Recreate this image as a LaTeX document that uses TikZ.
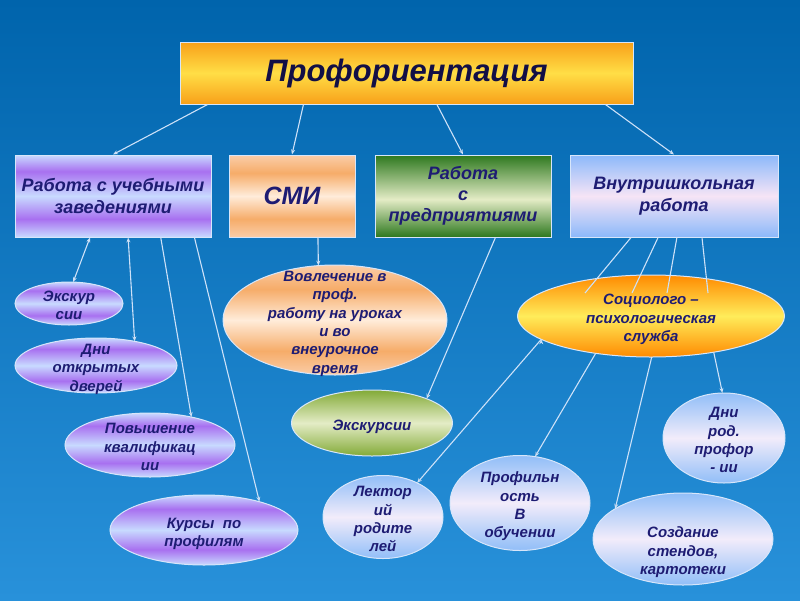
\documentclass[tikz,border=0pt]{standalone}
\usepackage{fontspec}
\setmainfont{Liberation Sans}
\usepackage{tikz}
\usetikzlibrary{positioning,shapes.geometric,arrows.meta,calc}

\definecolor{ink}{RGB}{30,28,115}
\definecolor{inkdark}{RGB}{18,15,70}
\definecolor{rim}{RGB}{215,230,250}
\definecolor{wire}{RGB}{205,225,248}
\definecolor{bgtop}{RGB}{0,100,172}
\definecolor{bgbot}{RGB}{40,145,218}
\definecolor{tor}{RGB}{248,160,25}
\definecolor{tye}{RGB}{255,222,70}
\definecolor{plt}{RGB}{200,218,255}
\definecolor{pvi}{RGB}{168,112,240}
\definecolor{olt}{RGB}{255,236,218}
\definecolor{oor}{RGB}{246,172,105}
\definecolor{opc}{RGB}{250,205,168}
\definecolor{gdk}{RGB}{45,120,30}
\definecolor{glt}{RGB}{228,236,198}
\definecolor{gmd}{RGB}{130,170,55}
\definecolor{bbl}{RGB}{140,185,250}
\definecolor{bpk}{RGB}{246,228,246}
\definecolor{sor}{RGB}{255,138,0}
\definecolor{sye}{RGB}{255,236,90}
\definecolor{lbl}{RGB}{145,190,248}
\definecolor{lwh}{RGB}{242,236,250}

\pgfdeclareverticalshading{titleband}{100bp}{color(0bp)=(tor); color(25bp)=(tor); color(50bp)=(tye); color(75bp)=(tor); color(100bp)=(tor)}
\pgfdeclareverticalshading{purpband}{100bp}{color(0bp)=(plt); color(25bp)=(plt); color(36bp)=(pvi); color(50bp)=(plt); color(65bp)=(pvi); color(75bp)=(plt); color(100bp)=(plt)}
\pgfdeclareverticalshading{orangeband}{100bp}{color(0bp)=(opc); color(25bp)=(opc); color(36bp)=(oor); color(50bp)=(olt); color(64bp)=(oor); color(75bp)=(opc); color(100bp)=(opc)}
\pgfdeclareverticalshading{greenband}{100bp}{color(0bp)=(gdk); color(25bp)=(gdk); color(48bp)=(glt); color(75bp)=(gdk); color(100bp)=(gdk)}
\pgfdeclareverticalshading{greenell}{100bp}{color(0bp)=(gmd); color(25bp)=(gmd); color(50bp)=(glt); color(75bp)=(gmd); color(100bp)=(gmd)}
\pgfdeclareverticalshading{blueband}{100bp}{color(0bp)=(bbl); color(25bp)=(bbl); color(50bp)=(bpk); color(75bp)=(bbl); color(100bp)=(bbl)}
\pgfdeclareverticalshading{socband}{100bp}{color(0bp)=(sor); color(25bp)=(sor); color(50bp)=(sye); color(75bp)=(sor); color(100bp)=(sor)}
\pgfdeclareverticalshading{skyband}{100bp}{color(0bp)=(lbl); color(25bp)=(lbl); color(50bp)=(lwh); color(75bp)=(lbl); color(100bp)=(lbl)}

\newcommand{\blobtext}[2][0pt]{\makebox[0pt]{\smash{\raisebox{\dimexpr-.48em-#1\relax}{\begin{tabular}{@{}c@{}}#2\end{tabular}}}}}

\begin{document}
\begin{tikzpicture}[x=1pt, y=-1pt, on grid, >={Stealth[length=5pt,width=4pt]},
	box/.style={draw=rim, line width=1pt, shade, inner sep=0pt, minimum height=82pt, align=center, text=ink, font=\fontsize{18}{22}\selectfont\bfseries\itshape},
	blob/.style={ellipse, draw=rim, line width=1pt, shade, inner sep=0pt, outer sep=0pt, text=ink, font=\fontsize{15}{18.3}\selectfont\bfseries\itshape},
	link/.style={draw=wire, line width=1.1pt}]
	\shade[top color=bgtop, bottom color=bgbot] (0,0) rectangle (800,600);
	% top row
	\node[box, shading=titleband, minimum width=453pt, minimum height=62pt, text=inkdark, font=\fontsize{31}{34}\selectfont\bfseries\itshape] (t_0) at (406.5,73) {Профориентация};
	\node[box, shading=purpband, minimum width=196pt] (r_1) at (113,196) {Работа с учебными\\заведениями};
	\node[box, shading=orangeband, minimum width=126pt, font=\fontsize{25}{30}\selectfont\bfseries\itshape] (r_2) [right=179pt of r_1] {СМИ};
	\node[box, shading=greenband, minimum width=176pt, font=\fontsize{18}{21}\selectfont\bfseries\itshape] (r_3) [right=171pt of r_2] {Работа\\с\\предприятиями};
	\node[box, shading=blueband, minimum width=208pt] (r_4) [right=211pt of r_3] {Внутришкольная\\работа};
	% ellipses
	\node[blob, shading=purpband, minimum width=108pt, minimum height=43pt] (e_1) at (69,303.5) {\blobtext{Экскур\\сии}};
	\node[blob, shading=purpband, minimum width=162pt, minimum height=55pt] (e_2) at (96,365.5) {\blobtext{Дни\\открытых\\дверей}};
	\node[blob, shading=purpband, minimum width=170pt, minimum height=64pt] (e_3) at (150,445) {\blobtext{Повышение\\квалификац\\ии}};
	\node[blob, shading=purpband, minimum width=188pt, minimum height=70pt] (e_4) at (204,530) {\blobtext{Курсы\ \ по\\профилям}};
	\node[blob, shading=orangeband, minimum width=224pt, minimum height=110pt] (e_5) at (335,320) {\blobtext{Вовлечение в\\проф.\\работу на уроках\\и во\\внеурочное\\время}};
	\node[blob, shading=greenell, minimum width=161pt, minimum height=66pt] (e_6) at (372,423) {\blobtext{Экскурсии}};
	\node[blob, shading=socband, minimum width=267pt, minimum height=82pt] (e_7) at (651,316) {\blobtext{Социолого –\\психологическая\\служба}};
	\node[blob, shading=skyband, minimum width=122pt, minimum height=90pt] (e_8) at (724,438) {\blobtext{Дни\\род.\\профор\\- ии}};
	\node[blob, shading=skyband, minimum width=140pt, minimum height=95pt] (e_9) at (520,503) {\blobtext{Профильн\\ость\\В\\обучении}};
	\node[blob, shading=skyband, minimum width=180pt, minimum height=92pt] (e_10) at (683,539) {\blobtext[10pt]{Создание\\стендов,\\картотеки}};
	\node[blob, shading=skyband, minimum width=120pt, minimum height=83pt] (e_11) at (383,517) {\blobtext{Лектор\\ий\\родите\\лей}};
	% connectors
	\path[link, ->]
		(t_0.189) edge (r_1.north)
		(t_0.197) edge (r_2.north)
		(t_0.314) edge (r_3.north)
		(t_0.351) edge (r_4.north)
		(r_1.241) edge[<->] (e_1.79)
		(r_1.290) edge[<->] (e_2.32)
		(r_1.319) edge (e_3.34)
		(r_1.333) edge (e_4.27)
		(r_2.302) edge (e_5.107)
		(r_3.308) edge (e_6.24)
		(r_4.224) edge[-] ($(e_7)+(-66,-23)$)
		(r_4.249) edge[-] ($(e_7)+(-19,-23)$)
		(r_4.274) edge[-] ($(e_7)+(16,-23)$)
		(r_4.304) edge[-] ($(e_7)+(57,-23)$)
		(e_7.330) edge (e_8.92)
		(e_7.271) edge (e_10.156)
		(e_7.214) edge (e_9.72)
		(e_7.192) edge (e_11.45);
\end{tikzpicture}
\end{document}
